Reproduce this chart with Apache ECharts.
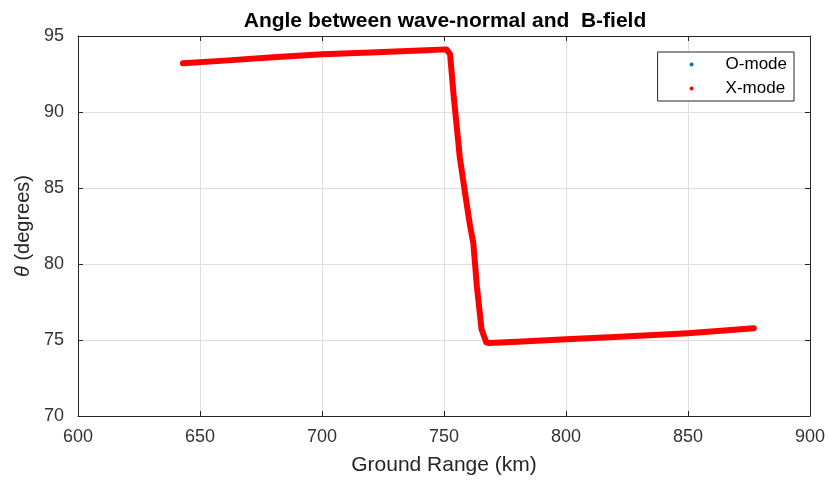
<!DOCTYPE html>
<html><head><meta charset="utf-8">
<script src="https://cdn.jsdelivr.net/npm/echarts@6/dist/echarts.min.js"></script>
<style>html,body{margin:0;padding:0;background:#fff}#c{width:828px;height:481px}</style>
</head><body><div id="c"></div>
<script>
const titleText = 'Angle between wave-normal and  B-field';
const xName = 'Ground Range (km)';
const yName = '{i|θ} (degrees)';
const seriesNames = ['O-mode', 'X-mode'];
const oRange = [];
const oTheta = [];
const xRange = [643, 660, 680, 700, 720, 740, 751, 752.5, 754, 756.5, 758.5, 760.7, 762, 763.5, 765.4, 767.3, 768.5, 780, 800, 820, 850, 877];
const xTheta = [93.2, 93.38, 93.6, 93.8, 93.92, 94.05, 94.12, 93.8, 91.0, 87.0, 84.8, 82.5, 81.4, 78.5, 75.7, 74.85, 74.8, 74.88, 75.05, 75.2, 75.45, 75.77];

const font = 'Liberation Sans, Arial, sans-serif';
const chart = echarts.init(document.getElementById('c'));
const axisCommon = {
  axisLine: {show: true, onZero: false, lineStyle: {color: '#262626', width: 1}},
  axisTick: {show: true, inside: true, length: 5, lineStyle: {color: '#262626'}},
};
chart.setOption({
  animation: false,
  backgroundColor: '#fff',
  title: {text: titleText, left: 440, top: 6, textAlign: 'center',
    textStyle: {fontFamily: font, fontSize: 21, fontWeight: 'bold', color: '#000'}},
  grid: {left: 78, right: 18, top: 36, bottom: 64, show: false},
  legend: {
    orient: 'vertical', right: 34, top: 52, data: seriesNames,
    icon: 'circle', itemWidth: 4, itemHeight: 4, itemGap: 7,
    borderColor: '#262626', borderWidth: 1, padding: [4, 7, 4, 32],
    backgroundColor: '#fff',
    textStyle: {fontFamily: font, fontSize: 17, color: '#000', padding: [0, 0, 0, 27]}
  },
  xAxis: [
    Object.assign({type: 'value', min: 600, max: 900, interval: 50, position: 'bottom',
      name: xName, nameLocation: 'middle', nameGap: 39,
      nameTextStyle: {fontFamily: font, fontSize: 21, color: '#262626'},
      axisLabel: {fontFamily: font, fontSize: 18, color: '#333', margin: 12},
      splitLine: {show: true, lineStyle: {color: '#dfdfdf', width: 1}}}, axisCommon),
    Object.assign({type: 'value', min: 600, max: 900, interval: 50, position: 'top',
      axisLabel: {show: false}, splitLine: {show: false}}, axisCommon)
  ],
  yAxis: [
    Object.assign({type: 'value', min: 70, max: 95, interval: 5, position: 'left',
      name: yName, nameLocation: 'middle', nameGap: 38,
      nameTextStyle: {fontFamily: font, fontSize: 20, color: '#262626',
        rich: {i: {fontFamily: font, fontSize: 20, fontStyle: 'italic', color: '#262626'}}},
      axisLabel: {fontFamily: font, fontSize: 18, color: '#333', margin: 14},
      splitLine: {show: true, lineStyle: {color: '#dfdfdf', width: 1}}}, axisCommon),
    Object.assign({type: 'value', min: 70, max: 95, interval: 5, position: 'right',
      axisLabel: {show: false}, splitLine: {show: false}}, axisCommon)
  ],
  series: [
    {name: seriesNames[0], type: 'line', showSymbol: false, symbol: 'circle',
      itemStyle: {color: '#0072BD'}, lineStyle: {color: '#0072BD', width: 6},
      data: oRange.map((x, i) => [x, oTheta[i]])},
    {name: seriesNames[1], type: 'line', showSymbol: false, symbol: 'circle',
      itemStyle: {color: '#ff0000'}, lineStyle: {color: '#ff0000', width: 6, cap: 'round', join: 'round'},
      data: xRange.map((x, i) => [x, xTheta[i]])}
  ]
});
</script></body></html>
